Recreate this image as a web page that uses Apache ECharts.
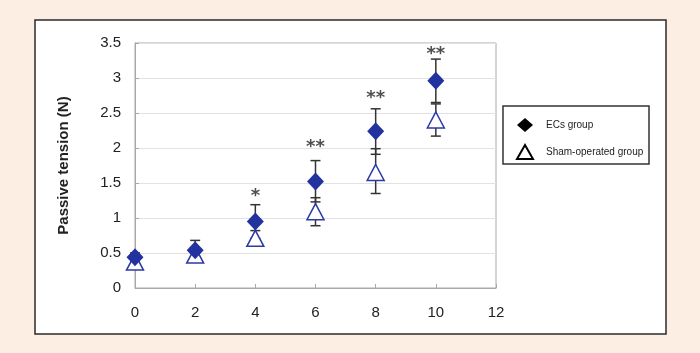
<!DOCTYPE html>
<html>
<head>
<meta charset="utf-8">
<script src="https://cdn.jsdelivr.net/npm/echarts@6/dist/echarts.min.js"></script>
<style>
html,body{margin:0;padding:0;background:#fdeee3;}
#c{width:700px;height:353px;}
</style>
</head>
<body>
<div id="c"></div>
<script>
// ---- data ----
var days = [0, 2, 4, 6, 8, 10];
var ecsMean = [0.44, 0.54, 0.95, 1.52, 2.24, 2.96];
var ecsLow  = [0.38, 0.40, 0.71, 1.23, 1.91, 2.65];
var ecsHigh = [0.50, 0.68, 1.19, 1.82, 2.56, 3.27];
var shamMean = [0.37, 0.47, 0.71, 1.09, 1.65, 2.40];
var shamLow  = [0.32, 0.42, 0.60, 0.89, 1.35, 2.17];
var shamHigh = [0.42, 0.52, 0.82, 1.29, 1.99, 2.63];
var sigX = [4, 6, 8, 10];
var sigY = [1.37, 2.07, 2.76, 3.39];
var sigText = ['*', '**', '**', '**'];
var seriesNames = ['ECs group', 'Sham-operated group'];
var yTicks = [0, 0.5, 1, 1.5, 2, 2.5, 3, 3.5];
var xTicks = [0, 2, 4, 6, 8, 10, 12];

function pts(xs, ys) { return xs.map(function (x, i) { return [x, ys[i]]; }); }
function errData(xs, lo, hi) { return xs.map(function (x, i) { return [x, lo[i], hi[i]]; }); }

function errRender(params, api) {
  var x = api.value(0), lo = api.value(1), hi = api.value(2);
  var pLo = api.coord([x, lo]), pHi = api.coord([x, hi]);
  var cw = 5;
  var st = { stroke: '#333', lineWidth: 1.5 };
  return {
    type: 'group',
    children: [
      { type: 'line', shape: { x1: pLo[0], y1: pLo[1], x2: pHi[0], y2: pHi[1] }, style: st },
      { type: 'line', shape: { x1: pLo[0] - cw, y1: pLo[1], x2: pLo[0] + cw, y2: pLo[1] }, style: st },
      { type: 'line', shape: { x1: pHi[0] - cw, y1: pHi[1], x2: pHi[0] + cw, y2: pHi[1] }, style: st }
    ]
  };
}

var chart = echarts.init(document.getElementById('c'));
var fontNum = 'Liberation Sans';
chart.setOption({
  backgroundColor: '#fdeee3',
  animation: false,
  graphic: [
    { type: 'rect', z: -10, shape: { x: 35, y: 20, width: 631, height: 314 },
      style: { fill: '#fff', stroke: '#2a2a2a', lineWidth: 1.5 } },
    { type: 'rect', z: 0, shape: { x: 503, y: 106, width: 146, height: 58 },
      style: { fill: '#fff', stroke: '#333', lineWidth: 1.5 } }
  ],
  grid: { left: 135, right: 204, top: 43, bottom: 65, show: true, borderColor: '#a8a8a8', borderWidth: 1 },
  legend: {
    orient: 'vertical', left: 516, top: 118, padding: 0, itemWidth: 16, itemHeight: 14, itemGap: 12,
    textStyle: { fontFamily: 'Liberation Sans', fontSize: 10, color: '#222', padding: [0, 0, 0, 8] },
    data: [
      { name: seriesNames[0], icon: 'diamond', itemStyle: { color: '#000', borderWidth: 0 } },
      { name: seriesNames[1], icon: 'triangle', itemStyle: { color: '#fff', borderColor: '#000', borderWidth: 2 } }
    ]
  },
  xAxis: {
    type: 'value', min: 0, max: 12, interval: 2,
    axisLine: { show: true, lineStyle: { color: '#a8a8a8' } },
    axisTick: { show: true, inside: true, length: 4, lineStyle: { color: '#a8a8a8' } },
    splitLine: { show: false },
    axisLabel: { margin: 17, fontFamily: fontNum, fontSize: 15, color: '#222',
      formatter: function (v) { return xTicks.indexOf(v) >= 0 ? String(v) : ''; } }
  },
  yAxis: {
    type: 'value', min: 0, max: 3.5, interval: 0.5,
    name: 'Passive tension (N)', nameLocation: 'middle', nameGap: 64,
    nameTextStyle: { fontFamily: 'Liberation Sans', fontWeight: 'bold', fontSize: 15, color: '#222' },
    axisLine: { show: true, lineStyle: { color: '#a8a8a8' } },
    axisTick: { show: true, inside: true, length: 4, lineStyle: { color: '#a8a8a8' } },
    splitLine: { show: true, lineStyle: { color: '#e2e2e2', width: 1 } },
    axisLabel: { margin: 14, fontFamily: fontNum, fontSize: 15, color: '#222',
      formatter: function (v) { return yTicks.indexOf(v) >= 0 ? String(v) : ''; } }
  },
  series: [
    { name: 'ecsErr', type: 'custom', renderItem: errRender, data: errData(days, ecsLow, ecsHigh), z: 1, silent: true },
    { name: 'shamErr', type: 'custom', renderItem: errRender, data: errData(days, shamLow, shamHigh), z: 1, silent: true },
    { name: seriesNames[1], type: 'scatter', symbol: 'triangle', symbolSize: [17, 16], data: pts(days, shamMean), z: 3,
      itemStyle: { color: '#fff', borderColor: '#2b3aa8', borderWidth: 1.5, opacity: 1 } },
    { name: seriesNames[0], type: 'scatter', symbol: 'diamond', symbolSize: [17, 18], data: pts(days, ecsMean), z: 4,
      itemStyle: { color: '#2233a0', opacity: 1 } },
    { name: 'sig', type: 'scatter', symbolSize: 0, z: 5, silent: true,
      data: sigX.map(function (x, i) { return { value: [x, sigY[i]], label: { formatter: sigText[i] } }; }),
      label: { show: true, position: 'inside', fontFamily: 'DejaVu Sans', fontWeight: 'bold', fontSize: 18, color: '#222', offset: [0, 4] } }
  ]
});
</script>
</body>
</html>
